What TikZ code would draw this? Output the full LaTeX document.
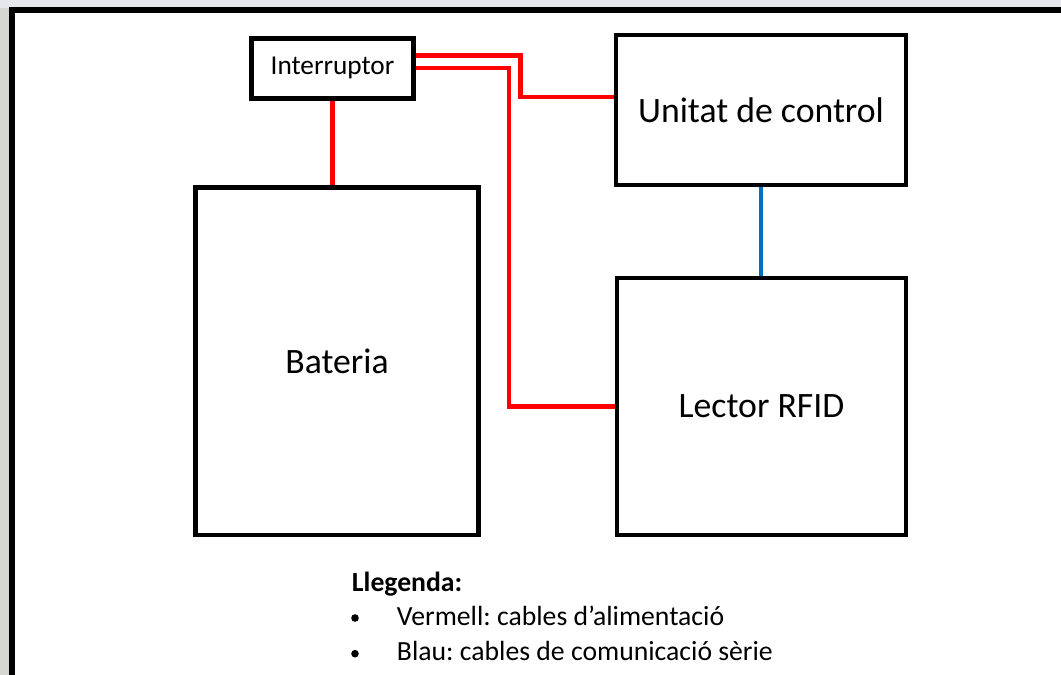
\documentclass[tikz,border=0pt]{standalone}
\usepackage{fontspec}
\setmainfont{Carlito}
\definecolor{PowerRed}{HTML}{FF0000}
\definecolor{SerialBlue}{HTML}{0070C0}
\definecolor{BackGrey}{HTML}{D6D6D2}
\definecolor{BackTop}{HTML}{E4E8EC}
\usepackage{tikz}
\usetikzlibrary{positioning, calc}
\frenchspacing

\begin{document}
\begin{tikzpicture}[x=0.025cm, y=-0.025cm,
    block/.style={draw, line width=3.2pt, inner sep=0pt},
    power/.style={PowerRed, line width=2.9pt},
    serial/.style={SerialBlue, line width=2.9pt}]
  \useasboundingbox (0,0) rectangle (1061,675);
  % Background and frame
  \fill[BackGrey] (0,0) rectangle (1061,675);
  \fill[BackTop] (0,0) rectangle (1061,8);
  \fill[white] (12.3,9.7) rectangle (1061,675);
  \draw[line width=4pt] (12.3,675) -- (12.3,9.7) -- (1061,9.7);
  % Blocks
  \node[block, minimum width=4.06cm, minimum height=1.5cm, font=\fontsize{19.4}{23}\selectfont]
    (int) at (332.5,68.3) {Interruptor\hspace{0.25cm}};
  \node[block, minimum width=7.065cm, minimum height=8.68cm, font=\fontsize{25.4}{30}\selectfont]
    (bat) at (337,361.3) {Bateria};
  \node[block, minimum width=7.25cm, minimum height=3.75cm, font=\fontsize{25.4}{30}\selectfont]
    (ctl) at (761,110) {Unitat de control};
  \node[block, minimum width=7.225cm, minimum height=6.425cm, font=\fontsize{25.4}{30}\selectfont]
    (rfid) at (761.5,406.5) {Lector RFID};
  % Power cables
  \draw[power] (int.south) -- (int.south |- bat.north);
  \draw[power] ([yshift=0.32cm]int.east) -- ++(104.5,0) |- ([yshift=0.32cm]ctl.west);
  \draw[power] (int.east) -- ++(93,0) |- (rfid.west);
  % Serial cable
  \draw[serial] (ctl.south) -- (ctl.south |- rfid.north);
  % Legend
  \node[anchor=base west, inner sep=0pt, font=\fontsize{19.7}{24}\selectfont\bfseries]
    (leg) at (351.7,591.7) {Llegenda:};
  \foreach \yy/\txt/\nm in {625/{Vermell: cables d’alimentació}/red,
                             660.7/{Blau: cables de comunicació sèrie}/blue} {
    \node[circle, fill, inner sep=0pt, minimum size=0.19cm]
      (dot-\nm) at (355,\yy-7) {};
    \node[anchor=base west, inner sep=0pt, font=\fontsize{19.7}{24}\selectfont]
      (item-\nm) at (396.7,\yy) {\txt};
  }
\end{tikzpicture}
\end{document}
